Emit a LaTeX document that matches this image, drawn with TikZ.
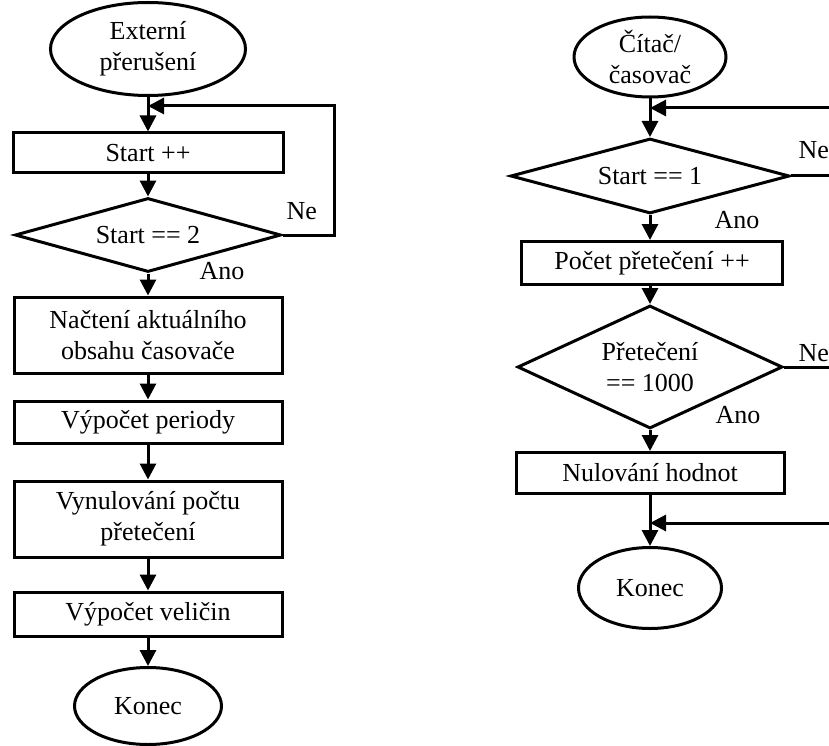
\documentclass[tikz,border=0pt]{standalone}
\usepackage{fontspec}
\setmainfont{Liberation Serif}
\usetikzlibrary{positioning,arrows.meta,shapes.geometric}

\begin{document}
\begin{tikzpicture}[x=1pt,y=-1pt,>={Triangle[length=16pt,width=16pt]},line width=3pt,
  every node/.style={font=\fontsize{26}{31}\selectfont}]
\tikzstyle{box}=[draw,rectangle,inner sep=0pt,align=center,minimum width=268pt]
\tikzstyle{term}=[draw,ellipse,inner sep=0pt,align=center]
\tikzstyle{cond}=[draw,diamond,inner sep=0pt,align=center]
\tikzstyle{lbl}=[inner sep=0pt,anchor=west]
\useasboundingbox (0,0) rectangle (829,746);

% left chart
\node[term,minimum width=195pt,minimum height=93pt] (ext) at (148,49) {Externí\\přerušení};
\node[box,minimum width=270pt,minimum height=40pt] (start) at (148,153) {Start ++};
\node[cond,aspect=3.6,minimum width=266pt,minimum height=74pt] (chk) at (148,235) {Start == 2};
\node[box,minimum height=76pt] (load) at (148,335) {Načtení aktuálního\\obsahu časovače};
\node[box,minimum height=42pt] (per) at (148,422) {Výpočet periody};
\node[box,minimum height=76pt] (rst) at (148,519) {Vynulování počtu\\přetečení};
\node[box,minimum height=44pt] (calc) at (148,614) {Výpočet veličin};
\node[term,minimum width=147pt,minimum height=77pt] (endL) at (148,706) {Konec};
\coordinate (loopL) at (148,106);
\node[lbl] (neL) at (285,211) {Ne};
\node[lbl] (anoL) at (198,271) {Ano};

\draw[->] (ext) -- (start);
\draw[->] (start) -- (chk);
\draw[->] (chk) -- (load);
\draw[->] (load) -- (per);
\draw[->] (per) -- (rst);
\draw[->] (rst) -- (calc);
\draw[->] (calc) -- (endL);
\draw[->] (chk.east) -- ++(52,0) |- (loopL);

% right chart
\node[term,minimum width=152pt,minimum height=80pt] (cnt) at (650,57) {Čítač/\\časovač};
\node[cond,aspect=3.7,minimum width=279pt,minimum height=75pt] (st1) at (650,176) {Start == 1};
\node[box,minimum width=261pt,minimum height=43pt] (incr) at (652,263) {Počet přetečení ++};
\node[cond,aspect=2.15,minimum width=265pt,minimum height=123pt] (ovf) at (650,367) {Přetečení\\== 1000};
\node[box,minimum height=41pt] (nul) at (650,473) {Nulování hodnot};
\node[term,minimum width=143pt,minimum height=81pt] (endR) at (650,588) {Konec};
\coordinate (loopR) at (650,108);
\coordinate (joinR) at (650,523);
\node[lbl] (neR1) at (797,150) {Ne};
\node[lbl] (anoR1) at (713,220) {Ano};
\node[lbl] (neR2) at (797,353) {Ne};
\node[lbl] (anoR2) at (714,415) {Ano};

\draw[->] (cnt) -- (st1);
\draw[->] (st1) -- (st1 |- incr.north);
\draw[->] (incr.south -| ovf) -- (ovf);
\draw[->] (ovf) -- (nul);
\draw[->] (nul) -- (endR);
\draw[->] (st1.east) -- ++(60,0) |- (loopR);
\draw[->] (ovf.east) -- ++(70,0) |- (joinR);
\end{tikzpicture}
\end{document}
